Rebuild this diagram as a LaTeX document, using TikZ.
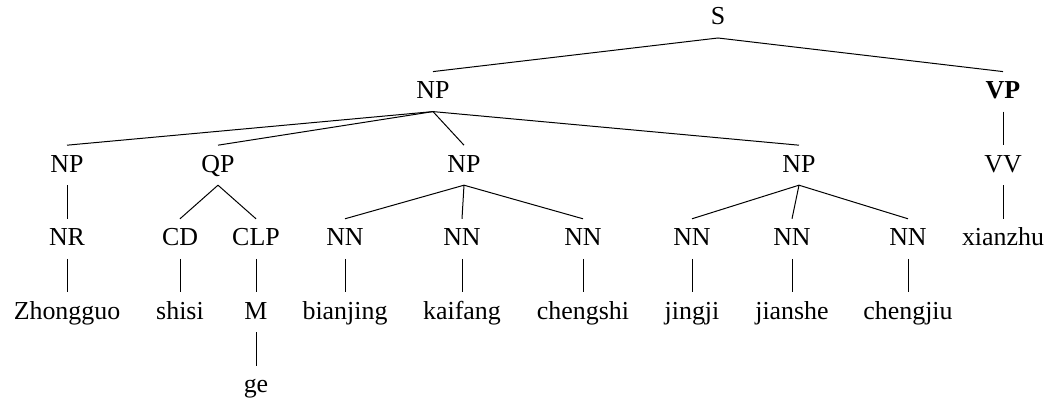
\documentclass[tikz,border=0pt]{standalone}
\usepackage{fontspec}
\setmainfont{Liberation Serif}
\usepackage{tikz}
\usetikzlibrary{positioning}

\tikzset{
	cat/.style={text height=8.5bp,text depth=1.5bp,inner xsep=0pt,inner ysep=5bp,outer sep=0pt},
}

\begin{document}
\begin{tikzpicture}[x=0.5bp,y=-0.5bp,font=\fontsize{13}{15}\selectfont,line width=0.5pt]
	\useasboundingbox (0,0) rectangle (1050,402);

	\node [cat] at (718,18) (s) {S};

	\node [cat] at (433,91.6) (np_top) {NP};
	\node [cat,font=\fontsize{13}{15}\selectfont\bfseries] at (1003,91.6) (vp_top) {VP};

	\node [cat] at (67,165.2) (np_zg) {NP};
	\node [cat] at (218,165.2) (qp) {QP};
	\node [cat] at (464,165.2) (np_bk) {NP};
	\node [cat] at (799,165.2) (np_jj) {NP};
	\node [cat] at (1003,165.2) (vv) {VV};

	\node [cat] at (67,238.8) (nr) {NR};
	\node [cat] at (180,238.8) (cd) {CD};
	\node [cat] at (256,238.8) (clp) {CLP};
	\node [cat] at (345,238.8) (nn_bj) {NN};
	\node [cat] at (462,238.8) (nn_kf) {NN};
	\node [cat] at (583,238.8) (nn_cs) {NN};
	\node [cat] at (692,238.8) (nn_jj) {NN};
	\node [cat] at (792,238.8) (nn_js) {NN};
	\node [cat] at (908,238.8) (nn_cj) {NN};
	\node [cat] at (1003,238.8) (w_xianzhu) {xianzhu};

	\node [cat] at (67,312.4) (w_zhongguo) {Zhongguo};
	\node [cat] at (180,312.4) (w_shisi) {shisi};
	\node [cat] at (256,312.4) (m) {M};
	\node [cat] at (345,312.4) (w_bianjing) {bianjing};
	\node [cat] at (462,312.4) (w_kaifang) {kaifang};
	\node [cat] at (583,312.4) (w_chengshi) {chengshi};
	\node [cat] at (692,312.4) (w_jingji) {jingji};
	\node [cat] at (792,312.4) (w_jianshe) {jianshe};
	\node [cat] at (908,312.4) (w_chengjiu) {chengjiu};

	\node [cat] at (256,386) (w_ge) {ge};

	\foreach \a/\b in {s/np_top,s/vp_top,np_top/np_zg,np_top/qp,np_top/np_bk,np_top/np_jj,vp_top/vv,
		np_zg/nr,qp/cd,qp/clp,np_bk/nn_bj,np_bk/nn_kf,np_bk/nn_cs,np_jj/nn_jj,np_jj/nn_js,np_jj/nn_cj,vv/w_xianzhu,
		nr/w_zhongguo,cd/w_shisi,clp/m,nn_bj/w_bianjing,nn_kf/w_kaifang,nn_cs/w_chengshi,nn_jj/w_jingji,nn_js/w_jianshe,nn_cj/w_chengjiu,
		m/w_ge}
		\draw (\a.south) -- (\b.north);
\end{tikzpicture}
\end{document}
